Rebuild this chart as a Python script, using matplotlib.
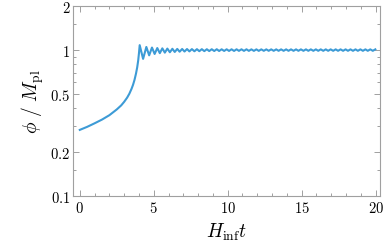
import matplotlib
matplotlib.use("Agg")
import matplotlib.pyplot as plt
import numpy as np

plt.rcParams.update({
    "mathtext.fontset": "cm",
    "font.family": "serif",
    "font.serif": ["DejaVu Serif"],
})

# rise of the field before it reaches the minimum
t_rise = [0.0, 0.5, 1.0, 1.5, 2.0, 2.5, 2.8, 3.0, 3.2, 3.35, 3.5, 3.6, 3.7,
          3.8, 3.88, 3.95, 4.0]
phi_rise = [0.284, 0.298, 0.315, 0.334, 0.358, 0.392, 0.418, 0.442, 0.472,
            0.502, 0.543, 0.578, 0.625, 0.69, 0.76, 0.85, 0.95]

# oscillation maxima around phi = M_pl
t_peak = [4.05, 4.50, 4.88, 5.24, 5.58, 5.92, 6.26, 6.59, 6.92, 7.25, 7.58,
          7.92, 8.25, 8.59, 8.92, 9.26, 9.59, 9.93, 10.26, 10.60, 10.93,
          11.27, 11.60, 11.94, 12.27, 12.61, 12.94, 13.28, 13.61, 13.95,
          14.28, 14.62, 14.95, 15.29, 15.62, 15.96, 16.29, 16.63, 16.96,
          17.30, 17.63, 17.97, 18.30, 18.64, 18.97, 19.31, 19.64, 19.98]
phi_peak = [1.08, 1.05, 1.04, 1.032, 1.027, 1.023, 1.02, 1.018, 1.017, 1.016,
            1.015, 1.014, 1.014, 1.013, 1.013, 1.013, 1.012, 1.012, 1.012,
            1.012, 1.012, 1.012, 1.011, 1.011, 1.011, 1.011, 1.011, 1.011,
            1.011, 1.011, 1.011, 1.011, 1.011, 1.011, 1.011, 1.011, 1.011,
            1.011, 1.011, 1.011, 1.011, 1.011, 1.011, 1.011, 1.011, 1.011,
            1.011, 1.011]
# oscillation minima
t_trough = [4.28, 4.69, 5.06, 5.41, 5.75, 6.09, 6.42, 6.75, 7.08, 7.41, 7.75,
            8.08, 8.42, 8.75, 9.09, 9.42, 9.76, 10.09, 10.43, 10.76, 11.10,
            11.43, 11.77, 12.10, 12.44, 12.77, 13.11, 13.44, 13.78, 14.11,
            14.45, 14.78, 15.12, 15.45, 15.79, 16.12, 16.46, 16.79, 17.13,
            17.46, 17.80, 18.13, 18.47, 18.80, 19.14, 19.47, 19.81]
phi_trough = [0.87, 0.92, 0.94, 0.952, 0.96, 0.966, 0.97, 0.974, 0.977, 0.979,
              0.981, 0.982, 0.983, 0.984, 0.985, 0.985, 0.986, 0.986, 0.986,
              0.987, 0.987, 0.987, 0.987, 0.987, 0.988, 0.988, 0.988, 0.988,
              0.988, 0.988, 0.988, 0.988, 0.988, 0.988, 0.988, 0.988, 0.988,
              0.988, 0.988, 0.988, 0.988, 0.988, 0.988, 0.988, 0.988, 0.988,
              0.988]

x_ticks = [0, 5, 10, 15, 20]
y_ticks = [0.1, 0.2, 0.5, 1, 2]
y_tick_labels = ["0.1", "0.2", "0.5", "1", "2"]
y_minor = [0.15, 0.3, 0.4, 0.6, 0.7, 0.8, 0.9, 1.5]

# merge extrema in time order
ext = sorted(zip(t_peak + t_trough, phi_peak + phi_trough))
t = np.array(t_rise + [p[0] for p in ext])
phi = np.array(phi_rise + [p[1] for p in ext])

fig = plt.figure(figsize=(3.89, 2.53), dpi=100)
ax = fig.add_axes([0.188, 0.221, 0.789, 0.751])
ax.plot(t, phi, color="#3d9bd6", lw=1.5, solid_joinstyle="round")

ax.set_yscale("log")
ax.set_xlim(-0.45, 20.3)
ax.set_ylim(0.1, 2)
ax.set_xticks(x_ticks)
ax.set_xticklabels([f"${v}$" for v in x_ticks])
ax.set_xticks(np.arange(0, 21, 1), minor=True)
ax.set_yticks(y_ticks)
ax.set_yticklabels([f"${s}$" for s in y_tick_labels])
ax.set_yticks(y_minor, minor=True)
ax.yaxis.set_minor_formatter(matplotlib.ticker.NullFormatter())

grey = "#a0a0a0"
for s in ax.spines.values():
    s.set_color(grey)
    s.set_linewidth(0.8)
ax.tick_params(which="both", direction="in", top=True, right=True,
               color=grey, labelsize=10.5, width=0.7)
ax.tick_params(which="major", length=4, pad=3)
ax.tick_params(axis="y", which="major", pad=2)
ax.tick_params(which="minor", length=2)

ax.set_xlabel(r"$H_{\rm inf}t$", fontsize=14, labelpad=4)
ax.set_ylabel(r"$\phi\ /\ M_{\rm pl}$", fontsize=14, labelpad=3)

fig.savefig("out.png", dpi=100)
